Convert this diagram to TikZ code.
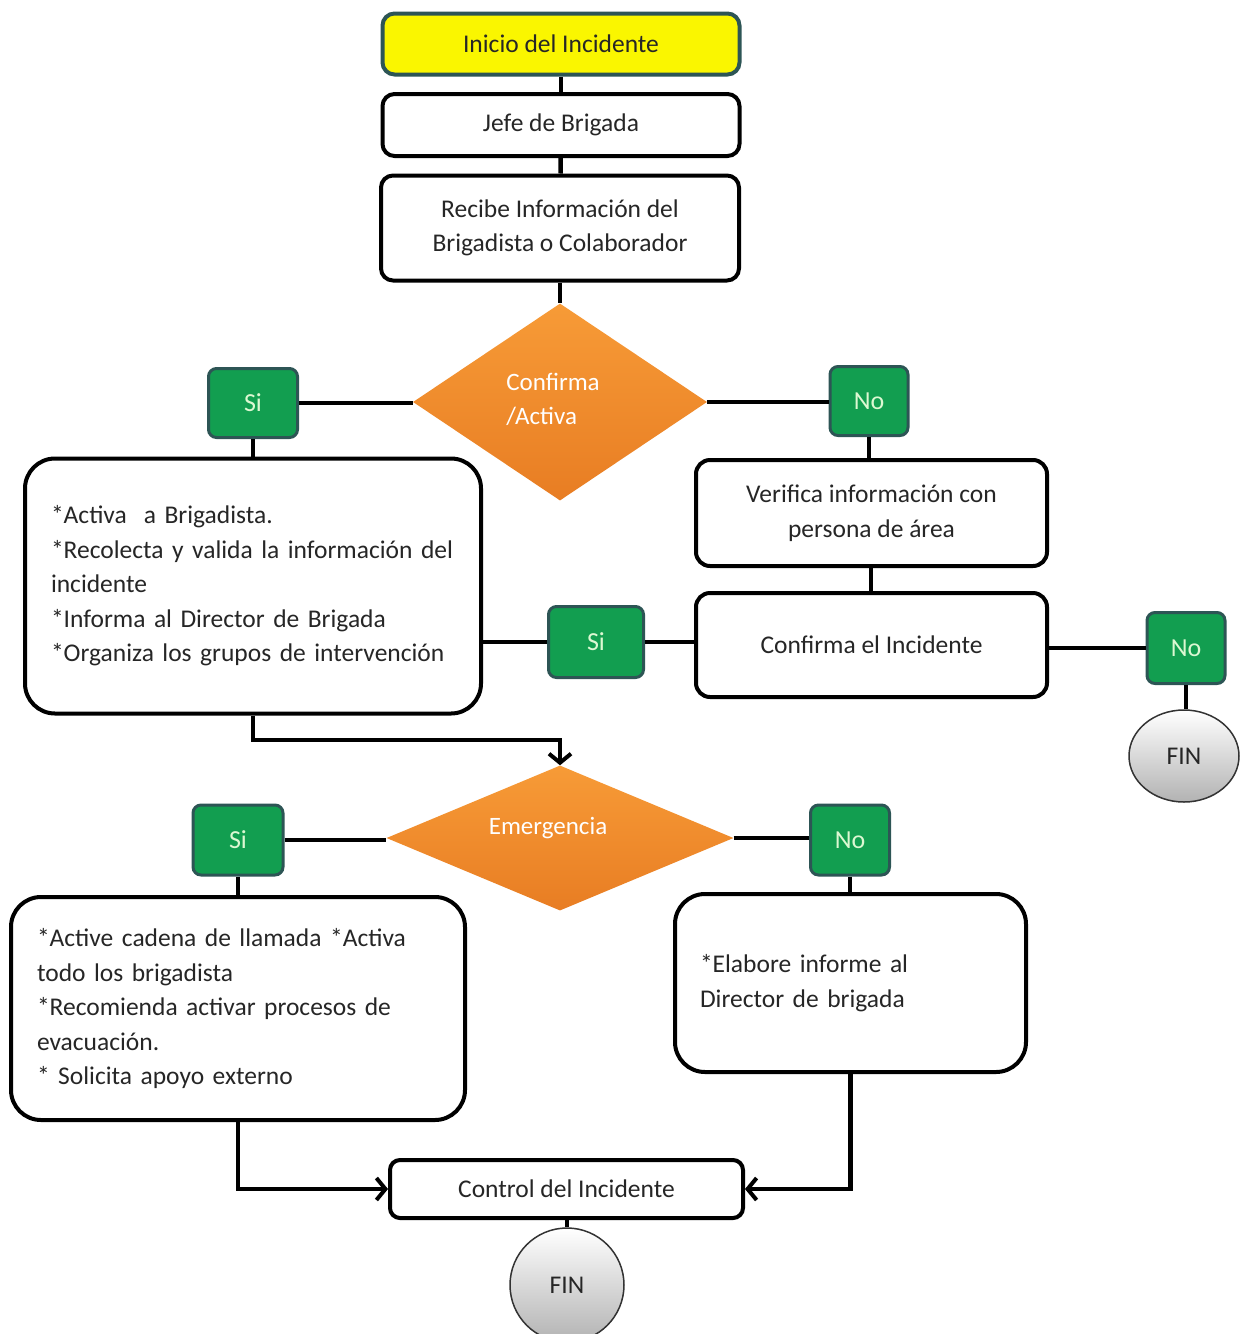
\documentclass[tikz,border=0pt]{standalone}
\usepackage{fontspec}
\setmainfont{Carlito}
\usetikzlibrary{shapes.geometric,arrows.meta,calc}
\definecolor{yel}{RGB}{250,246,0}
\definecolor{tealedge}{RGB}{45,85,85}
\definecolor{grn}{RGB}{18,158,80}
\definecolor{mint}{RGB}{220,248,210}
\definecolor{orgA}{RGB}{247,155,55}
\definecolor{orgB}{RGB}{232,125,35}
\begin{document}
\begin{tikzpicture}[x=1pt,y=-1pt,
  every node/.style={font=\fontsize{25.5}{34.5}\selectfont, text=black!85},
  box/.style={draw=black, line width=4pt, fill=white, rounded corners=12pt, inner sep=0pt, align=center},
  bigbox/.style={draw=black, line width=4pt, fill=white, rounded corners=30pt, inner sep=0pt, align=left},
  yelbox/.style={box, draw=tealedge, fill=yel},
  green/.style={draw=tealedge, line width=3pt, fill=grn, rounded corners=8pt, text=mint, inner sep=0pt, font=\fontsize{26}{28}\selectfont},
  dia/.style={diamond, draw=none, top color=orgA, bottom color=orgB, inner sep=0pt},
  dlabel/.style={text=white, align=left, font=\fontsize{25}{34}\selectfont},
  finnode/.style={ellipse, draw=black!80, line width=1.5pt, top color=white, bottom color=black!30, inner sep=0pt},
  conn/.style={draw=black, line width=4.5pt},
  arr/.style={conn, -{Straight Barb[length=9pt,width=22pt,line width=4pt]}}
]
\useasboundingbox (0,0) rectangle (1240,1334);

% top column
\node[yelbox, minimum width=357pt, minimum height=61pt] (inicio) at (561,44) {Inicio del Incidente};
\node[box, minimum width=357pt, minimum height=62pt] (jefe) at (561,125) {Jefe de Brigada};
\node[box, minimum width=358pt, minimum height=105pt] (recibe) at (560,228) {Recibe Información del\\Brigadista o Colaborador};

% first decision
\node[dia, minimum width=294pt, minimum height=197pt] (d1) at (560,402) {};
\node[dlabel] (d1t) at (553,399) {Confirma\\/Activa};
\node[green, minimum width=89pt, minimum height=69pt] (si1) at (253,403) {Si};
\node[green, minimum width=78pt, minimum height=69pt] (no1) at (869,401) {No};

\node[bigbox, minimum width=456pt, minimum height=255pt, text width=404pt] (box1) at (253,586)
  {*Activa \ a Brigadista.\\{}*Recolecta y valida la información del\\{}incidente\\{}*Informa al Director de Brigada\\{}*Organiza los grupos de intervención};
\node[box, minimum width=351pt, minimum height=106pt, rounded corners=14pt] (ver) at (871.5,513) {Verifica información con\\persona de área};
\node[box, minimum width=351pt, minimum height=104pt, rounded corners=14pt] (conf) at (871.5,645) {Confirma el Incidente};
\node[green, minimum width=95pt, minimum height=71pt] (si2) at (596,642) {Si};
\node[green, minimum width=78pt, minimum height=71pt] (no2) at (1186,648) {No};
\node[finnode, minimum width=110pt, minimum height=92pt] (fin1) at (1184,756) {FIN};

% second decision
\node[dia, minimum width=347pt, minimum height=145pt] (d2) at (560,838) {};
\node[dlabel] (d2t) at (548,828) {Emergencia};
\node[green, minimum width=90pt, minimum height=70pt] (si3) at (238,840) {Si};
\node[green, minimum width=79pt, minimum height=70pt] (no3) at (850,840) {No};

\node[bigbox, minimum width=454pt, minimum height=223pt, text width=402pt] (box2) at (238,1008.5)
  {*Active cadena de llamada *Activa\\{}todo los brigadista\\{}*Recomienda activar procesos de\\{}evacuación.\\{}* Solicita apoyo externo};
\node[bigbox, minimum width=351pt, minimum height=178pt, text width=301pt] (box3) at (850.5,983)
  {*Elabore informe al\\{}Director de brigada};

\node[box, minimum width=353pt, minimum height=58pt, rounded corners=10pt] (ctrl) at (566.5,1189) {Control del Incidente};
\node[finnode, circle, minimum size=114pt] (fin2) at (567,1285) {FIN};

% connectors
\draw[conn] (inicio) -- (jefe);
\draw[conn] (jefe) -- (recibe);
\draw[conn] (recibe) -- (d1);
\draw[conn] (si1.east) -- (si1.east -| d1.west);
\draw[conn] (d1.east) -- (d1.east -| no1.west);
\draw[conn] (si1.south) -- (si1.south |- box1.north);
\draw[conn] (no1.south) -- (no1.south |- ver.north);
\draw[conn] (ver.south -| 871,0) -- (conf.north -| 871,0);
\draw[conn] (conf.west |- si2.east) -- (si2.east);
\draw[conn] (si2.west) -- (si2.west -| box1.east);
\draw[conn] (no2.west -| conf.east) -- (no2.west);
\draw[conn] (no2.south) -- (no2.south |- fin1.north);
\draw[arr] (box1.south) -- (box1.south |- 0,740) -| (d2.north);

\draw[conn] (si3.east) -- (si3.east -| d2.west);
\draw[conn] (d2.east) -- (d2.east -| no3.west);
\draw[conn] (si3.south) -- (si3.south |- box2.north);
\draw[conn] (no3.south) -- (no3.south |- box3.north);
\draw[arr] (box2.south) |- (ctrl.west);
\draw[arr] (box3.south) |- (ctrl.east);
\draw[conn] (ctrl.south -| fin2.north) -- (fin2.north);
\end{tikzpicture}
\end{document}
